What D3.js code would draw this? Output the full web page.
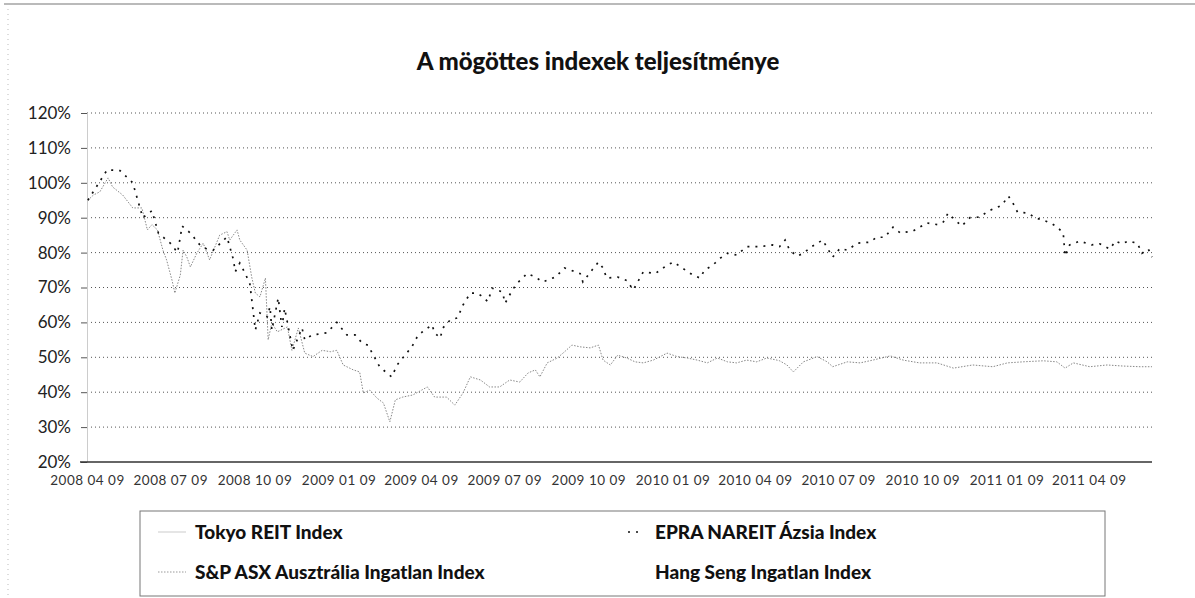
<!DOCTYPE html>
<html>
<head>
<meta charset="utf-8">
<script src="https://cdn.jsdelivr.net/npm/d3@7"></script>
<style>
	body { margin: 0; background: #fff; }
	svg { display: block; }
</style>
</head>
<body>
<svg id="chart" width="1195" height="598"></svg>
<script>
// (values in %)
const epraDates = ["2008-04-10","2008-05-01","2008-05-15","2008-05-29","2008-06-09","2008-06-19","2008-06-26","2008-07-09","2008-07-17","2008-07-22","2008-07-31","2008-08-11","2008-08-18","2008-08-25","2008-09-09","2008-09-16","2008-09-18","2008-09-23","2008-09-29","2008-10-04","2008-10-07","2008-10-10","2008-10-15","2008-10-23","2008-10-26","2008-10-28","2008-11-04","2008-11-08","2008-11-11","2008-11-20","2008-11-30","2008-12-03","2008-12-11","2008-12-27","2009-01-07","2009-01-18","2009-01-27","2009-02-04","2009-02-10","2009-02-23","2009-03-08","2009-03-14","2009-03-20","2009-03-30","2009-04-06","2009-04-21","2009-04-24","2009-04-30","2009-05-03","2009-05-11","2009-05-19","2009-05-25","2009-06-02","2009-06-09","2009-06-13","2009-06-21","2009-06-26","2009-07-07","2009-07-10","2009-07-18","2009-07-23","2009-08-03","2009-08-12","2009-08-20","2009-09-03","2009-09-13","2009-09-30","2009-10-03","2009-10-13","2009-10-20","2009-10-25","2009-10-29","2009-11-10","2009-11-20","2009-11-27","2009-12-08","2009-12-21","2010-01-03","2010-01-10","2010-01-23","2010-01-31","2010-02-08","2010-02-13","2010-02-22","2010-03-02","2010-03-10","2010-03-20","2010-03-31","2010-04-15","2010-04-28","2010-05-06","2010-05-12","2010-05-17","2010-05-25","2010-06-01","2010-06-10","2010-06-22","2010-07-03","2010-07-11","2010-07-19","2010-07-30","2010-08-13","2010-08-20","2010-08-29","2010-09-07","2010-09-15","2010-09-29","2010-10-14","2010-10-26","2010-11-01","2010-11-06","2010-11-14","2010-11-21","2010-11-30","2010-12-11","2010-12-20","2010-12-30","2011-01-04","2011-01-11","2011-01-16","2011-01-21","2011-02-02","2011-02-09","2011-02-18","2011-02-26","2011-03-05","2011-03-12","2011-03-14","2011-03-19","2011-03-30","2011-04-12","2011-04-21","2011-05-02","2011-05-08","2011-05-15","2011-05-22","2011-06-01","2011-06-06","2011-06-13","2011-06-17"]
const epraValues = [95,103.7,103.5,100,90,92,85.6,82.7,80,87.6,85.6,82,81,80.7,84.5,78,74.5,77,74,71,64.5,57.8,62.7,61.6,64.5,57.8,67,58.7,64,52,58.4,55,56.4,57,60,56.4,56.4,54,53.5,47.2,44.4,47.8,49.8,53,56.4,59.3,57,55.5,58.4,60.7,61.3,65,68.4,68.4,67.8,66,69.8,68.7,65.5,69.3,71.2,74,73,71.6,73,75.6,74,71.6,75,77.3,75.6,72.7,73,72,69.3,74.5,74,76.4,77.3,75,73.6,72.7,75,76.4,78.4,79.8,79.3,81.7,81.7,82.2,81.7,83.6,80.7,79,79.8,81.7,83.6,78.7,81.2,80.7,82.7,83,84.4,84.4,87.3,85.6,86.2,88.5,88,88.8,91.3,89.3,87.6,90,90.2,91.9,93,93.6,96.2,94.2,91.6,91.3,90,89.3,88.5,87.4,85.6,79,82.2,83.3,82.2,82.5,81,83.3,82.5,83.3,82.7,79.8,81,78.7]

const asxDates = ["2008-04-10","2008-04-16","2008-04-23","2008-05-02","2008-05-07","2008-05-18","2008-05-29","2008-06-08","2008-06-14","2008-06-19","2008-06-25","2008-07-01","2008-07-05","2008-07-11","2008-07-14","2008-07-20","2008-07-23","2008-07-27","2008-07-31","2008-08-07","2008-08-14","2008-08-21","2008-09-01","2008-09-09","2008-09-12","2008-09-20","2008-09-23","2008-10-01","2008-10-06","2008-10-10","2008-10-15","2008-10-21","2008-10-24","2008-10-28","2008-11-03","2008-11-14","2008-11-19","2008-11-26","2008-12-03","2008-12-12","2008-12-22","2008-12-31","2009-01-07","2009-01-14","2009-01-25","2009-02-01","2009-02-05","2009-02-12","2009-02-20","2009-02-27","2009-03-06","2009-03-12","2009-03-20","2009-03-31","2009-04-16","2009-04-24","2009-05-07","2009-05-16","2009-05-25","2009-06-02","2009-06-13","2009-06-23","2009-07-04","2009-07-15","2009-07-26","2009-08-04","2009-08-12","2009-08-17","2009-08-25","2009-09-05","2009-09-13","2009-09-21","2009-09-30","2009-10-11","2009-10-20","2009-10-25","2009-11-02","2009-11-10","2009-11-20","2009-11-29","2009-12-08","2009-12-19","2010-01-03","2010-01-14","2010-01-25","2010-02-05","2010-02-16","2010-02-27","2010-03-10","2010-03-20","2010-03-31","2010-04-11","2010-04-22","2010-05-03","2010-05-06","2010-05-14","2010-05-21","2010-06-01","2010-06-16","2010-06-27","2010-07-03","2010-07-19","2010-08-02","2010-08-16","2010-09-04","2010-09-18","2010-10-06","2010-10-25","2010-11-12","2010-12-03","2010-12-25","2011-01-10","2011-01-27","2011-02-18","2011-03-05","2011-03-14","2011-03-23","2011-04-10","2011-04-29","2011-05-16","2011-06-04","2011-06-17"]
const asxValues = [95,96.5,97.4,101.4,98.8,96.5,92.8,92.8,86.5,88,86.5,80.7,77.9,72,68.4,73.6,80.7,78.8,75.9,79.8,82.7,77.9,85,86,83.6,86.5,83.6,80.7,73,68.4,67.3,72.7,55,59.8,57.3,58.7,52,58.4,51.2,50.2,52,51.6,52,47.8,46.4,45.8,39.8,40.6,38.3,36.9,31.5,37.8,38.6,39.2,41.5,38.6,38.6,36.3,39.8,44.4,43.5,41.5,41.5,43.5,42.9,45.5,46.4,44.4,48.4,49.8,51.6,53.5,53,52.7,53.5,49.2,47.8,50.6,49.8,48.7,48.4,49.2,51.2,50.2,49.8,49.2,48.4,49.8,48.7,48.4,49.2,48.7,49.8,49.2,49,47.8,45.8,48.7,50.2,48.7,47.3,48.7,48.4,49.2,50.4,49.2,48.4,48.4,46.9,47.8,47.3,48.4,48.7,49,48.7,46.9,48.4,47.3,47.8,47.5,47.3,47.3]

const yTicks = [20, 30, 40, 50, 60, 70, 80, 90, 100, 110, 120]
const xTickDates = ["2008-04-09","2008-07-09","2008-10-09","2009-01-09","2009-04-09","2009-07-09","2009-10-09","2010-01-09","2010-04-09","2010-07-09","2010-10-09","2011-01-09","2011-04-09"]
const xDomain = ["2008-04-09", "2011-06-17"]

const legendItems = [
	{ name: "Tokyo REIT Index", col: 0, row: 0, symbol: "tokyo" },
	{ name: "EPRA NAREIT Ázsia Index", col: 1, row: 0, symbol: "epra" },
	{ name: "S&P ASX Ausztrália Ingatlan Index", col: 0, row: 1, symbol: "asx" },
	{ name: "Hang Seng Ingatlan Index", col: 1, row: 1, symbol: "none" },
]

const parse = d3.timeParse("%Y-%m-%d")
const fmt = d3.timeFormat("%Y %m %d")

const plot = { left: 87, right: 1152, top: 113, bottom: 462 }

const svg = d3.select("#chart")
const fontMain = "'Lato', 'DejaVu Sans', sans-serif"

const x = d3.scaleTime()
	.domain(xDomain.map(parse))
	.range([plot.left, plot.right])
const y = d3.scaleLinear()
	.domain([20, 120])
	.range([plot.bottom, plot.top])

// frame of the scanned page
svg.append("line")
	.attr("x1", 4).attr("x2", 1195)
	.attr("y1", 4).attr("y2", 4)
	.style("stroke", "#777")
	.style("stroke-width", 1.2)
svg.append("line")
	.attr("x1", 8).attr("x2", 8)
	.attr("y1", 4).attr("y2", 598)
	.style("stroke", "#bbb")
	.style("stroke-dasharray", "1,4")

// title
svg.append("text")
	.attr("x", 598)
	.attr("y", 70)
	.attr("text-anchor", "middle")
	.style("font-family", fontMain)
	.style("font-weight", 900)
	.style("font-size", "24px")
	.style("fill", "#111")
	.text("A mögöttes indexek teljesítménye")

// horizontal dotted gridlines
svg.append("g")
	.attr("class", "grid")
	.selectAll("line")
	.data(yTicks.filter(t => t > 20))
	.join("line")
	.attr("x1", plot.left)
	.attr("x2", plot.right)
	.attr("y1", d => y(d))
	.attr("y2", d => y(d))
	.style("stroke", "#555")
	.style("stroke-width", 1)
	.style("stroke-dasharray", "1,3")

// y axis
let yAxis = svg.append("g")
	.attr("transform", `translate(${plot.left},0)`)
	.call(d3.axisLeft(y).tickValues(yTicks).tickFormat(d => d + "%").tickSize(6).tickPadding(10))
yAxis.select(".domain").style("stroke", "#ccc")
yAxis.selectAll(".tick line").style("stroke", "#555")
yAxis.selectAll(".tick text")
	.style("font-family", fontMain)
	.style("font-size", "17px")
	.style("fill", "#222")

// x axis
let xAxis = svg.append("g")
	.attr("transform", `translate(0,${plot.bottom})`)
	.call(d3.axisBottom(x).tickValues(xTickDates.map(parse)).tickFormat(fmt).tickSize(0).tickPadding(13))
xAxis.select(".domain")
	.attr("d", `M${plot.left - 7},0H${plot.right}`)
	.style("stroke", "#333")
	.style("stroke-width", 1.3)
xAxis.selectAll(".tick text")
	.style("font-family", fontMain)
	.style("font-size", "13.5px")
	.style("letter-spacing", "0.5px")
	.style("fill", "#333")

// series
const line = d3.line()
	.x(d => x(d.date))
	.y(d => y(d.value))

const asx = asxDates.map((d, i) => ({ date: parse(d), value: asxValues[i] }))
const epra = epraDates.map((d, i) => ({ date: parse(d), value: epraValues[i] }))

svg.append("path")
	.datum(asx)
	.attr("d", line)
	.style("fill", "none")
	.style("stroke", "#888")
	.style("stroke-width", 1)
	.style("stroke-dasharray", "1.5,1.5")

svg.append("path")
	.datum(epra)
	.attr("d", line)
	.style("fill", "none")
	.style("stroke", "#111")
	.style("stroke-width", 1.7)
	.style("stroke-dasharray", "2,6")

// legend
let legend = svg.append("g")
legend.append("rect")
	.attr("x", 140).attr("y", 511)
	.attr("width", 965).attr("height", 85)
	.style("fill", "none")
	.style("stroke", "#777")
	.style("stroke-width", 1)

let item = legend.selectAll("g.item")
	.data(legendItems)
	.join("g")
	.attr("class", "item")
	.attr("transform", d => `translate(${d.col ? 620 : 158},${d.row ? 579 : 539})`)

item.filter(d => d.symbol === "tokyo").append("line")
	.attr("x1", 0).attr("x2", 28).attr("y1", -7).attr("y2", -7)
	.style("stroke", "#ddd").style("stroke-width", 1.5)
item.filter(d => d.symbol === "asx").append("line")
	.attr("x1", 0).attr("x2", 28).attr("y1", -7).attr("y2", -7)
	.style("stroke", "#999").style("stroke-width", 1).style("stroke-dasharray", "1.5,1.5")
item.filter(d => d.symbol === "epra").append("line")
	.attr("x1", 8).attr("x2", 24).attr("y1", -7).attr("y2", -7)
	.style("stroke", "#111").style("stroke-width", 1.7).style("stroke-dasharray", "2,6")

item.append("text")
	.attr("x", d => d.col ? 35 : 37)
	.attr("y", 0)
	.style("font-family", fontMain)
	.style("font-weight", 900)
	.style("font-size", "19px")
	.style("fill", "#111")
	.text(d => d.name)
</script>
</body>
</html>
